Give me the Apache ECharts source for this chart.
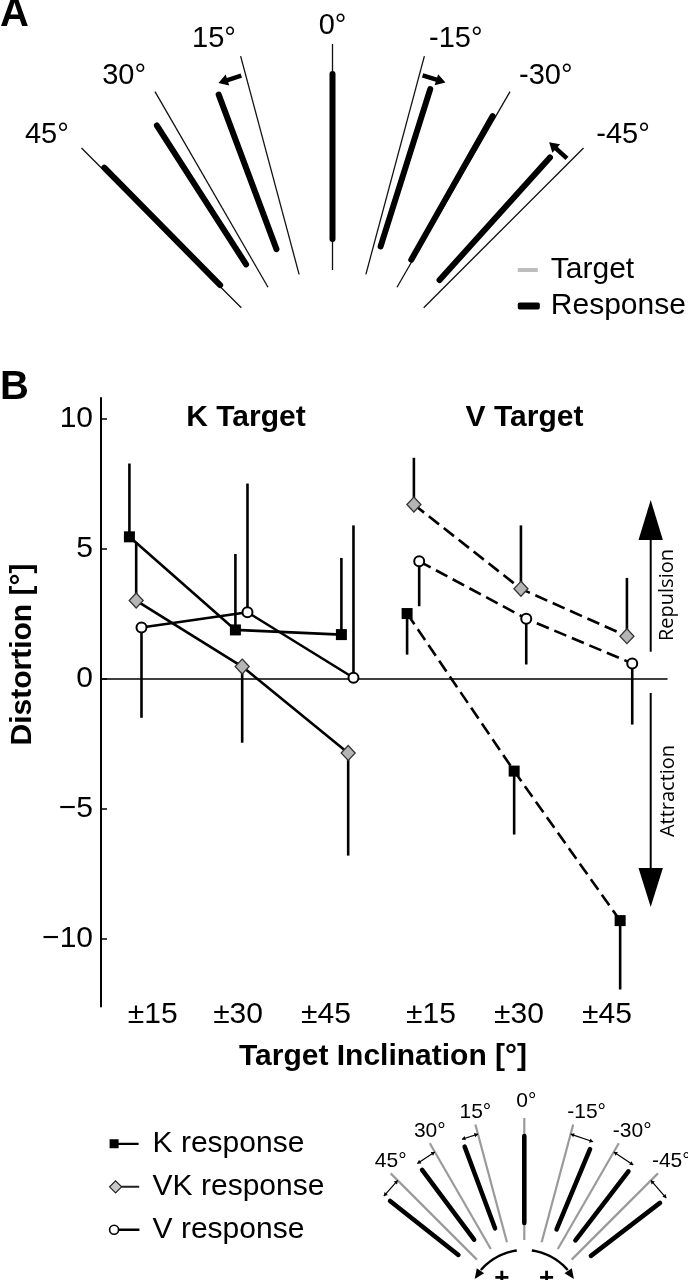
<!DOCTYPE html>
<html>
<head>
<meta charset="utf-8">
<script src="https://cdn.jsdelivr.net/npm/echarts/dist/echarts.min.js"></script>
<style>
html,body{margin:0;padding:0;background:#fff;}
#chart{width:688px;height:1280px;}
</style>
</head>
<body>
<div id="chart"></div>
<script>
// ---------------- Panel A : target vs. response inclination ----------------
const targetAnglesA   = [45, 30, 15, 0, -15, -30, -45];
const angleLabels     = ['45°', '30°', '15°', '0°', '-15°', '-30°', '-45°'];
const responseAnglesA = [44.6, 32.7, 20.5, 0, -17.5, -29.5, -42.0];
const shiftArrowAngles = [17.8, -17.6, -42.2];
const shiftArrowDirs   = [1, -1, 1];

// ---------------- Panel B : distortion per target inclination ----------------
const inclinationLabels   = ['±15', '±30', '±45', '±15', '±30', '±45'];
const inclinationLabelPos = [1.22, 2.025, 2.855, 3.845, 4.675, 5.505];
const yTicks = [-10, -5, 0, 5, 10];
const kTargetPos = [1, 2, 3];
const vTargetPos = [3.62, 4.63, 5.63];
// K target (solid lines)
const kTargetK     = [5.46, 1.88, 1.70];
const kTargetVK    = [3.01, 0.47, -2.85];
const kTargetV     = [1.97, 2.56, 0.04];
const kTargetKErr  = [8.28, 4.80, 4.65];
const kTargetVKErr = [5.25, -2.46, -6.80];
const kTargetVErr  = [-1.50, 7.51, 5.90];
// V target (dashed lines)
const vTargetK     = [2.51, -3.55, -9.30];
const vTargetVK    = [6.70, 3.46, 1.64];
const vTargetV     = [4.52, 2.31, 0.59];
const vTargetKErr  = [0.93, -5.99, -11.95];
const vTargetVKErr = [8.50, 5.90, 3.88];
const vTargetVErr  = [2.79, 0.55, -1.76];
const responseNames = ['K response', 'VK response', 'V response'];

// ---------------- Inset : sign convention ----------------
const targetAnglesC   = [45, 30, 15, 0, -15, -30, -45];
const responseAnglesC = [51.7, 36.7, 20.4, 0, -22.6, -37.5, -52.5];
const rotationSides   = [1, -1];

// ---------------- styling constants ----------------
const FONT = '"Liberation Sans", Arial, Helvetica, sans-serif';
const DODGE = [0, 0.064, 0.114];
const XMIN = 0.732, XMAX = 6.072;

function rad(d) { return d * Math.PI / 180; }
function polar(api, r, deg) { return api.coord([-r * Math.sin(rad(deg)), r * Math.cos(rad(deg))]); }
function arrowPoly(T, H, sw, hl, hw) {
  const dx = H[0] - T[0], dy = H[1] - T[1], L = Math.hypot(dx, dy);
  const ux = dx / L, uy = dy / L, nx = -uy, ny = ux;
  const B = [H[0] - ux * hl, H[1] - uy * hl];
  return [
    [T[0] + nx * sw / 2, T[1] + ny * sw / 2], [B[0] + nx * sw / 2, B[1] + ny * sw / 2],
    [B[0] + nx * hw / 2, B[1] + ny * hw / 2], H,
    [B[0] - nx * hw / 2, B[1] - ny * hw / 2], [B[0] - nx * sw / 2, B[1] - ny * sw / 2],
    [T[0] - nx * sw / 2, T[1] - ny * sw / 2]
  ];
}

const symbols = [
  { symbol: 'rect', size: 11, itemStyle: { color: '#000', borderColor: '#000', borderWidth: 0 } },
  { symbol: 'diamond', size: [14, 15], itemStyle: { color: '#b5b5b5', borderColor: '#333', borderWidth: 1.3 } },
  { symbol: 'circle', size: 10, itemStyle: { color: '#fff', borderColor: '#000', borderWidth: 2 } }
];

function lineSeries(name, k, pos, vals, dashed) {
  return {
    type: 'line', name: name, xAxisIndex: 0, yAxisIndex: 0, z: 4,
    data: pos.map((x, i) => [x + DODGE[k], vals[i]]),
    symbol: symbols[k].symbol, symbolSize: symbols[k].size, itemStyle: symbols[k].itemStyle,
    lineStyle: { color: '#000', width: 2.6, type: dashed ? [13, 6] : 'solid' },
    silent: true, animation: false, emphasis: { disabled: true }
  };
}
function errSeries(k, pos, vals, ends) {
  return {
    type: 'custom', xAxisIndex: 0, yAxisIndex: 0, z: 2, silent: true, animation: false,
    data: pos.map((x, i) => [x + DODGE[k], vals[i], ends[i]]),
    encode: { x: 0, y: [1, 2] },
    renderItem: function (params, api) {
      const a = api.coord([api.value(0), api.value(1)]);
      const b = api.coord([api.value(0), api.value(2)]);
      return { type: 'line', shape: { x1: a[0], y1: a[1], x2: b[0], y2: b[1] },
               style: { stroke: '#000', lineWidth: 2.6 } };
    }
  };
}

const chart = echarts.init(document.getElementById('chart'), null, { renderer: 'canvas' });

const option = {
  animation: false,
  backgroundColor: '#fff',
  textStyle: { fontFamily: FONT },
  grid: [
    { left: 101, right: 21, top: 398, bottom: 273.6, outerBoundsMode: 'none', containLabel: false },
    { left: 0, top: 0, width: 688, height: 399, outerBoundsMode: 'none', containLabel: false },
    { left: 300, top: 1080, width: 388, height: 200, outerBoundsMode: 'none', containLabel: false }
  ],
  xAxis: [
    { gridIndex: 0, type: 'value', min: XMIN, max: XMAX, position: 'top',
      axisLine: { show: true, onZero: true, lineStyle: { color: '#000', width: 1.5 } },
      axisTick: { show: false }, axisLabel: { show: false }, splitLine: { show: false } },
    { gridIndex: 0, type: 'value', min: XMIN, max: XMAX, position: 'bottom',
      axisLine: { show: false, onZero: false }, axisTick: { show: false }, splitLine: { show: false },
      axisLabel: { show: true, customValues: inclinationLabelPos, margin: 8, verticalAlign: 'middle',
        fontSize: 30, color: '#000', fontFamily: FONT,
        formatter: function (v) {
          let best = 0;
          inclinationLabelPos.forEach((p, i) => { if (Math.abs(p - v) < Math.abs(inclinationLabelPos[best] - v)) best = i; });
          return inclinationLabels[best];
        } } },
    { gridIndex: 1, type: 'value', min: -332.5, max: 355.5, show: false },
    { gridIndex: 2, type: 'value', min: -224.3, max: 163.7, show: false }
  ],
  yAxis: [
    { gridIndex: 0, type: 'value', min: -12.6, max: 10.8,
      axisLine: { show: true, lineStyle: { color: '#000', width: 2 } },
      axisTick: { show: true, inside: true, length: 6, customValues: yTicks, lineStyle: { color: '#000', width: 1.5 } },
      axisLabel: { show: true, customValues: yTicks, margin: 8, fontSize: 30, color: '#000', fontFamily: FONT,
        formatter: v => (v < 0 ? '\u2212' + (-v) : String(v)) },
      splitLine: { show: false } },
    { gridIndex: 1, type: 'value', min: 0, max: 399, show: false },
    { gridIndex: 2, type: 'value', min: 27, max: 227, show: false }
  ],
  legend: [
    { orient: 'vertical', left: 108.8, top: 1128.8, itemWidth: 29, itemHeight: 12, itemGap: 13,
      selectedMode: false, padding: 0,
      textStyle: { fontSize: 30, color: '#000', fontFamily: FONT, lineHeight: 30, padding: [0, 0, 0, 9] },
      data: [
        { name: 'K response', icon: 'path://M0,0h9v9h-9z M9,3.5h20v2.2h-20z', itemStyle: { color: '#000', borderWidth: 0 } },
        { name: 'VK response', icon: 'path://M6,0L12,6L6,12L0,6z M12,5.6h17v0.8h-17z', itemStyle: { color: '#c8c8c8', borderColor: '#222', borderWidth: 1.2 } },
        { name: 'V response', icon: 'path://M0,4.5a4.5,4.5 0 1,0 9,0a4.5,4.5 0 1,0 -9,0z M9,4.1h20v0.8h-20z', itemStyle: { color: '#fff', borderColor: '#000', borderWidth: 1.6 } }
      ] },
    { left: 517.8, top: 255, itemWidth: 20, itemHeight: 4, selectedMode: false, padding: 0,
      textStyle: { fontSize: 30, color: '#000', fontFamily: FONT, lineHeight: 30, padding: [0, 0, 0, 8] },
      data: [{ name: 'Target', icon: 'rect', itemStyle: { color: '#bdbdbd', borderWidth: 0 } }] },
    { left: 517.8, top: 291, itemWidth: 22, itemHeight: 7, selectedMode: false, padding: 0,
      textStyle: { fontSize: 30, color: '#000', fontFamily: FONT, lineHeight: 30, padding: [0, 0, 0, 6] },
      data: [{ name: 'Response', icon: 'roundRect', itemStyle: { color: '#000', borderWidth: 0 } }] }
  ],
  series: [
    // ---- Panel B error bars ----
    errSeries(0, kTargetPos, kTargetK, kTargetKErr),
    errSeries(1, kTargetPos, kTargetVK, kTargetVKErr),
    errSeries(2, kTargetPos, kTargetV, kTargetVErr),
    errSeries(0, vTargetPos, vTargetK, vTargetKErr),
    errSeries(1, vTargetPos, vTargetVK, vTargetVKErr),
    errSeries(2, vTargetPos, vTargetV, vTargetVErr),
    // ---- Panel B lines ----
    lineSeries(responseNames[0], 0, kTargetPos, kTargetK, false),
    lineSeries(responseNames[1], 1, kTargetPos, kTargetVK, false),
    lineSeries(responseNames[2], 2, kTargetPos, kTargetV, false),
    lineSeries(responseNames[0], 0, vTargetPos, vTargetK, true),
    lineSeries(responseNames[1], 1, vTargetPos, vTargetVK, true),
    lineSeries(responseNames[2], 2, vTargetPos, vTargetV, true),
    // ---- Panel A targets + angle labels ----
    { type: 'custom', name: 'Target', xAxisIndex: 2, yAxisIndex: 1, silent: true, animation: false,
      itemStyle: { color: '#bdbdbd' },
      data: targetAnglesA.map(a => [a, 0]),
      renderItem: function (params, api) {
        const a = api.value(0), i = params.dataIndex;
        const p1 = polar(api, 129, a), p2 = polar(api, 355, a), lp = polar(api, 373, a);
        return { type: 'group', children: [
          { type: 'line', shape: { x1: p1[0], y1: p1[1], x2: p2[0], y2: p2[1] }, style: { stroke: '#111', lineWidth: 1.3 } },
          { type: 'text', x: lp[0], y: lp[1], style: { text: angleLabels[i], align: a > 0 ? 'right' : (a < 0 ? 'left' : 'center'),
            verticalAlign: 'middle', fontSize: 29, fontFamily: FONT, fill: '#000' } }
        ] };
      } },
    // ---- Panel A responses ----
    { type: 'custom', name: 'Response', xAxisIndex: 2, yAxisIndex: 1, silent: true, animation: false,
      itemStyle: { color: '#000' },
      data: responseAnglesA.map(a => [a, 0]),
      renderItem: function (params, api) {
        const a = api.value(0);
        const p1 = polar(api, 160, a), p2 = polar(api, 325, a);
        return { type: 'line', shape: { x1: p1[0], y1: p1[1], x2: p2[0], y2: p2[1] },
                 style: { stroke: '#000', lineWidth: 6, lineCap: 'round' } };
      } },
    // ---- Panel A shift arrows ----
    { type: 'custom', xAxisIndex: 2, yAxisIndex: 1, silent: true, animation: false,
      data: shiftArrowAngles.map((a, i) => [a, shiftArrowDirs[i]]),
      renderItem: function (params, api) {
        const a = api.value(0), d = api.value(1), r = 336, half = 12 / r * 180 / Math.PI;
        const T = polar(api, r, a - d * half), H = polar(api, r, a + d * half);
        return { type: 'polygon', shape: { points: arrowPoly(T, H, 4.5, 9.5, 11.5) }, style: { fill: '#000' } };
      } },
    // ---- Inset targets + labels ----
    { type: 'custom', xAxisIndex: 3, yAxisIndex: 2, silent: true, animation: false,
      data: targetAnglesC.map(a => [a, 100]),
      renderItem: function (params, api) {
        const a = api.value(0), i = params.dataIndex;
        const p1 = polar(api, 67, a), p2 = polar(api, 189, a);
        let lx = p2[0], ly = p2[1] - 12, al = 'center';
        if (a < 0) { lx = p2[0] - 6; al = 'left'; }
        if (a === 0) { lx = p2[0] + 2; ly = p2[1] - 17; }
        return { type: 'group', children: [
          { type: 'line', shape: { x1: p1[0], y1: p1[1], x2: p2[0], y2: p2[1] }, style: { stroke: '#9a9a9a', lineWidth: 2.2 } },
          { type: 'text', x: lx, y: ly, style: { text: angleLabels[i], align: al, verticalAlign: 'middle', fontSize: 21, fontFamily: FONT, fill: '#000' } }
        ] };
      } },
    // ---- Inset responses + distance markers ----
    { type: 'custom', xAxisIndex: 3, yAxisIndex: 2, silent: true, animation: false,
      data: responseAnglesC.map((a, i) => [a, targetAnglesC[i]]),
      encode: { x: 0 },
      renderItem: function (params, api) {
        const a = api.value(0), t = api.value(1);
        const p1 = polar(api, 84, a), p2 = polar(api, 171, a);
        const children = [
          { type: 'line', shape: { x1: p1[0], y1: p1[1], x2: p2[0], y2: p2[1] }, style: { stroke: '#000', lineWidth: 4.6, lineCap: 'round' } }
        ];
        if (t !== 0) {
          const A = polar(api, 179, t), B = polar(api, 179, a);
          children.push({ type: 'line', shape: { x1: A[0], y1: A[1], x2: B[0], y2: B[1] }, style: { stroke: '#000', lineWidth: 1.2 } });
          [[A, B], [B, A]].forEach(([P, Q]) => {
            const dx = P[0] - Q[0], dy = P[1] - Q[1], L = Math.hypot(dx, dy), ux = dx / L, uy = dy / L;
            const bx = P[0] - ux * 3.5, by = P[1] - uy * 3.5;
            children.push({ type: 'polygon', shape: { points: [P, [bx - uy * 2.2, by + ux * 2.2], [bx + uy * 2.2, by - ux * 2.2]] }, style: { fill: '#000' } });
          });
        }
        return { type: 'group', children: children };
      } },
    // ---- Inset rotation-sign arrows ----
    { type: 'custom', xAxisIndex: 3, yAxisIndex: 2, silent: true, animation: false,
      data: rotationSides.map(s => [s, 100]),
      renderItem: function (params, api) {
        const s = api.value(0), pts = [];
        for (let th = 7.6; th <= 50.5; th += 2) pts.push(polar(api, 57, s * th));
        const T = polar(api, 57, s * 49), H = polar(api, 57, s * 60.5);
        const plus = polar(api, 39, s * 35);
        return { type: 'group', children: [
          { type: 'polyline', shape: { points: pts }, style: { stroke: '#000', lineWidth: 2.4, fill: null } },
          { type: 'polygon', shape: { points: arrowPoly(T, H, 0.1, 10, 9) }, style: { fill: '#000' } },
          { type: 'text', x: plus[0], y: plus[1] + 4, style: { text: '+', align: 'center', verticalAlign: 'middle', fontSize: 26, fontWeight: 'bold', fontFamily: FONT, fill: '#000' } }
        ] };
      } }
  ],
  graphic: [
    { type: 'text', x: 0, y: 15, style: { text: 'A', fontSize: 40, fontWeight: 'bold', fontFamily: FONT, fill: '#000', align: 'left', verticalAlign: 'middle' } },
    { type: 'text', x: 0, y: 387.5, style: { text: 'B', fontSize: 40, fontWeight: 'bold', fontFamily: FONT, fill: '#000', align: 'left', verticalAlign: 'middle' } },
    { type: 'text', x: 246, y: 418, style: { text: 'K Target', fontSize: 30, fontWeight: 'bold', fontFamily: FONT, fill: '#000', align: 'center', verticalAlign: 'middle' } },
    { type: 'text', x: 524.5, y: 418, style: { text: 'V Target', fontSize: 30, fontWeight: 'bold', fontFamily: FONT, fill: '#000', align: 'center', verticalAlign: 'middle' } },
    { type: 'text', x: 22.5, y: 654.5, rotation: Math.PI / 2, style: { text: 'Distortion [°]', fontSize: 30, fontWeight: 'bold', fontFamily: FONT, fill: '#000', align: 'center', verticalAlign: 'middle' } },
    { type: 'text', x: 383, y: 1057, style: { text: 'Target Inclination [°]', fontSize: 30, fontWeight: 'bold', fontFamily: FONT, fill: '#000', align: 'center', verticalAlign: 'middle' } },
    // Repulsion / Attraction annotation arrows
    { type: 'line', shape: { x1: 650.7, y1: 651.7, x2: 650.7, y2: 535 }, style: { stroke: '#000', lineWidth: 2 } },
    { type: 'polygon', shape: { points: [[650.7, 500], [638.5, 540], [662.9, 540]] }, style: { fill: '#000' } },
    { type: 'line', shape: { x1: 650.7, y1: 693, x2: 650.7, y2: 872 }, style: { stroke: '#000', lineWidth: 2 } },
    { type: 'polygon', shape: { points: [[638.5, 868], [662.9, 868], [650.7, 907]] }, style: { fill: '#000' } },
    { type: 'text', x: 667, y: 595, rotation: Math.PI / 2, style: { text: 'Repulsion', fontSize: 20, fontFamily: '"Open Sans", sans-serif', fill: '#000', align: 'center', verticalAlign: 'middle' } },
    { type: 'text', x: 668, y: 791, rotation: Math.PI / 2, style: { text: 'Attraction', fontSize: 20, fontFamily: '"Open Sans", sans-serif', fill: '#000', align: 'center', verticalAlign: 'middle' } }
  ]
};
chart.setOption(option);
</script>
</body>
</html>
